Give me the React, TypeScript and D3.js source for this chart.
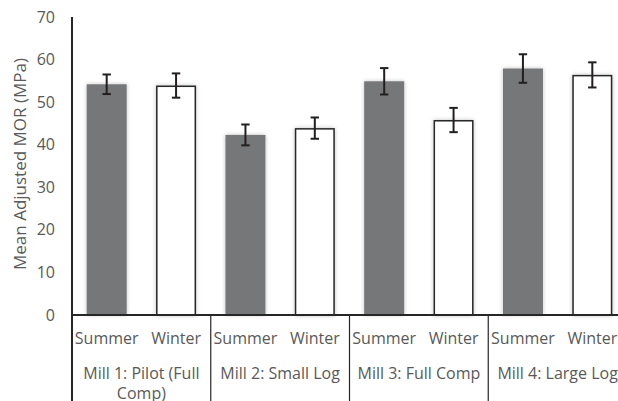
import React, { useRef, useEffect } from "react";
import * as d3 from "d3";

const mills = ["Mill 1: Pilot (Full Comp)", "Mill 2: Small Log", "Mill 3: Full Comp", "Mill 4: Large Log"];
const seasons = ["Summer", "Winter"];
const summerMeans = [54.2, 42.3, 54.9, 57.9];
const winterMeans = [53.9, 43.9, 45.8, 56.4];
const summerErr = [2.3, 2.45, 3.1, 3.35];
const winterErr = [2.85, 2.5, 2.85, 2.95];
const yTicks = [0, 10, 20, 30, 40, 50, 60, 70];

const App = () => {
  const ref = useRef<SVGSVGElement>(null);

  useEffect(() => {
    const svg = d3.select(ref.current);
    svg.selectAll("*").remove();

    const height = 401;
    const margin = { top: 17, left: 72, bottom: 315 };
    const right = 627;
    const textColor = "#595959";
    const font = "'Open Sans', sans-serif";

    const defs = svg.append("defs");
    const f = defs
      .append("filter")
      .attr("id", "glow")
      .attr("x", "-30%")
      .attr("y", "-10%")
      .attr("width", "160%")
      .attr("height", "120%");
    f.append("feGaussianBlur").attr("in", "SourceAlpha").attr("stdDeviation", 2).attr("result", "b");
    f.append("feComponentTransfer")
      .attr("in", "b")
      .attr("result", "s")
      .append("feFuncA")
      .attr("type", "linear")
      .attr("slope", 0.25);
    const merge = f.append("feMerge");
    merge.append("feMergeNode").attr("in", "s");
    merge.append("feMergeNode").attr("in", "SourceGraphic");

    const y = d3.scaleLinear().domain([0, 70]).range([margin.bottom, margin.top]);
    const x0 = d3.scaleBand().domain(mills).range([margin.left, right]);
    const x1 = d3
      .scaleBand()
      .domain(seasons)
      .range([0, x0.bandwidth()])
      .paddingInner(0.4235)
      .paddingOuter(0.2118);

    const data = mills.flatMap((m, i) => [
      { mill: m, season: "Summer", v: summerMeans[i], e: summerErr[i] },
      { mill: m, season: "Winter", v: winterMeans[i], e: winterErr[i] },
    ]);

    // bars
    svg
      .append("g")
      .selectAll("rect")
      .data(data)
      .join("rect")
      .attr("x", (d) => x0(d.mill)! + x1(d.season)! + (d.season === "Winter" ? 0.75 : 0))
      .attr("y", (d) => y(d.v) + (d.season === "Winter" ? 0.75 : 0))
      .attr("width", (d) => x1.bandwidth() - (d.season === "Winter" ? 1.5 : 0))
      .attr("height", (d) => y(0) - y(d.v) - (d.season === "Winter" ? 0.75 : 0))
      .attr("fill", (d) => (d.season === "Summer" ? "#767779" : "#ffffff"))
      .attr("stroke", (d) => (d.season === "Summer" ? "none" : "#262626"))
      .attr("stroke-width", 1.5)
      .attr("filter", "url(#glow)");

    // error bars
    const eb = svg
      .append("g")
      .attr("stroke", "#231f20")
      .attr("stroke-width", 2)
      .selectAll("g")
      .data(data)
      .join("g")
      .attr("transform", (d) => `translate(${x0(d.mill)! + x1(d.season)! + x1.bandwidth() / 2},0)`);
    eb.append("line")
      .attr("y1", (d) => y(d.v + d.e))
      .attr("y2", (d) => y(d.v - d.e));
    eb.append("line")
      .attr("x1", -4.2)
      .attr("x2", 4.2)
      .attr("y1", (d) => y(d.v + d.e))
      .attr("y2", (d) => y(d.v + d.e));
    eb.append("line")
      .attr("x1", -4.2)
      .attr("x2", 4.2)
      .attr("y1", (d) => y(d.v - d.e))
      .attr("y2", (d) => y(d.v - d.e));

    // y axis
    svg
      .append("line")
      .attr("x1", margin.left)
      .attr("x2", margin.left)
      .attr("y1", margin.top)
      .attr("y2", height)
      .attr("stroke", "#262626")
      .attr("stroke-width", 2);

    svg
      .append("g")
      .selectAll("text")
      .data(yTicks)
      .join("text")
      .attr("x", 55)
      .attr("y", (d) => y(d))
      .attr("dy", "0.35em")
      .attr("text-anchor", "end")
      .style("font-family", font)
      .style("font-size", "16px")
      .style("fill", textColor)
      .text((d) => d);

    svg
      .append("text")
      .attr("transform", `translate(26,164) rotate(-90)`)
      .attr("text-anchor", "middle")
      .style("font-family", font)
      .style("font-size", "17px")
      .style("fill", textColor)
      .text("Mean Adjusted MOR (MPa)");

    // x axis
    svg
      .append("line")
      .attr("x1", margin.left)
      .attr("x2", right)
      .attr("y1", y(0))
      .attr("y2", y(0))
      .attr("stroke", "#262626")
      .attr("stroke-width", 2);

    svg
      .append("g")
      .selectAll("line")
      .data(mills.slice(1).concat(["end"]))
      .join("line")
      .attr("x1", (d) => (d === "end" ? right : x0(d)!))
      .attr("x2", (d) => (d === "end" ? right : x0(d)!))
      .attr("y1", y(0))
      .attr("y2", height)
      .attr("stroke", "#262626")
      .attr("stroke-width", 1.2);

    svg
      .append("g")
      .selectAll("text")
      .data(data)
      .join("text")
      .attr("x", (d) => x0(d.mill)! + x1(d.season)! + x1.bandwidth() / 2)
      .attr("y", 344)
      .attr("text-anchor", "middle")
      .style("font-family", font)
      .style("font-size", "16px")
      .style("fill", textColor)
      .text((d) => d.season);

    const ml = svg
      .append("g")
      .selectAll("text")
      .data(mills)
      .join("text")
      .attr("text-anchor", "middle")
      .style("font-family", font)
      .style("font-size", "16px")
      .style("fill", textColor);
    ml.each(function (d) {
      const t = d3.select(this);
      const cx = x0(d)! + x0.bandwidth() / 2;
      const lines = d === mills[0] ? ["Mill 1: Pilot (Full", "Comp)"] : [d];
      lines.forEach((l, i) => {
        t.append("tspan").attr("x", cx).attr("y", 379 + i * 20).text(l);
      });
    });
  }, []);

  return <svg width={618} height={401} ref={ref} style={{ display: "block", position: "absolute", left: 0, top: 0 }}></svg>;
};

export default App;
